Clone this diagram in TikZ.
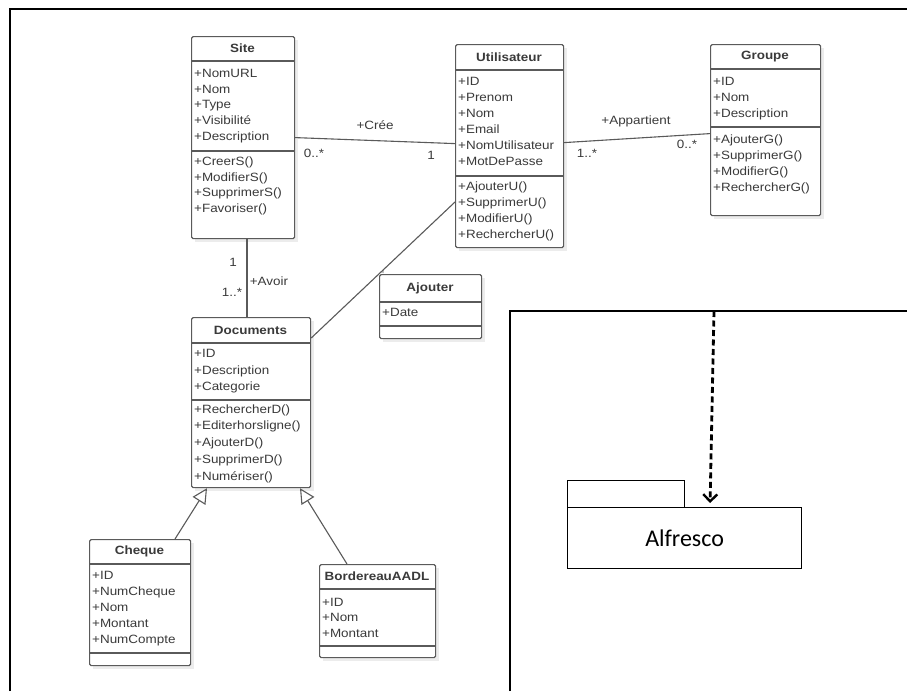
\documentclass[tikz,border=0pt]{standalone}
\usepackage{fontspec}
\setmainfont{Liberation Sans}[FakeStretch=1.12]
\newfontfamily\alffont{Carlito}
\usetikzlibrary{arrows.meta,calc}
\definecolor{boxline}{HTML}{5A5A5A}
\definecolor{txt}{HTML}{3A3A3A}
\definecolor{shadowc}{HTML}{ECECEC}
\tikzset{
  clsframe/.style={draw=boxline, line width=1.2pt, rounded corners=1.5pt, fill=white, inner sep=0pt, anchor=north west},
  sepline/.style={draw=boxline, line width=1.2pt},
  ttl/.style={font=\fontsize{12}{14}\selectfont\bfseries, text=txt, inner sep=0pt},
  item/.style={font=\fontsize{12}{14}\selectfont, text=txt, inner sep=0pt, anchor=west, text height=9pt, text depth=2.5pt},
  assoc/.style={draw=boxline, line width=1.1pt},
  lbl/.style={font=\fontsize{12}{14}\selectfont, text=txt, inner sep=0pt},
  gen/.style={draw=boxline, line width=1.1pt, -{Triangle[open,length=15pt,width=15pt,fill=white]}},
  frameline/.style={draw=black, line width=2.8pt},
  innerframe/.style={draw=black, line width=1.5pt},
  pkg/.style={draw=black, line width=1.2pt, fill=white, inner sep=0pt, anchor=north west},
  depend/.style={draw=black, line width=2.8pt, dash pattern=on 6pt off 3.5pt, -{Straight Barb[length=7pt,width=14pt,line width=2.4pt]}},
}
\newcommand\umlclass[8]{%
  \fill[shadowc] (#2+4,#3+4) rectangle (#4+4,#7+4);
  \node[clsframe, minimum width={(#4-#2)*1pt}, minimum height={(#7-#3)*1pt}] (#1) at (#2,#3) {};
  \draw[sepline] (#2,#5) -- (#4,#5);
  \draw[sepline] (#2,#6) -- (#4,#6);
  \node[ttl] (#1-t) at ({(#2+#4)/2},{(#3+#5)/2}) {#8};
}
\newcommand\umlitems[5]{%
  \foreach \s [count=\i] in {#5} \node[item] (#1-\i) at (#2,{#3+(\i-1)*#4}) {\s};
}
\begin{document}
\begin{tikzpicture}[x=1pt,y=-1pt]
\useasboundingbox (0,0) rectangle (907,691);
\fill[white] (0,0) rectangle (907,691);
% frames
\draw[frameline] (10,691) -- (10,9) -- (907,9);
\draw[innerframe] (510,691) -- (510,311) -- (907,311);
\coordinate (ftop) at (714,311);

% classes
\umlclass{site}{191}{36}{294}{61}{151}{238}{Site}
\umlitems{sa}{194}{74}{15.8}{+NomURL,+Nom,+Type,+Visibilité,+Description}
\umlitems{sm}{194}{162}{15.8}{+CreerS(),+ModifierS(),+SupprimerS(),+Favoriser()}

\umlclass{user}{455}{44}{563}{70}{176}{247}{Utilisateur}
\umlitems{ua}{458}{82}{16}{+ID,+Prenom,+Nom,+Email,+NomUtilisateur,+MotDePasse}
\umlitems{um}{458}{187}{16}{+AjouterU(),+SupprimerU(),+ModifierU(),+RechercherU()}

\umlclass{grp}{710}{44}{820}{69}{127}{215}{Groupe}
\umlitems{ga}{713}{82}{16}{+ID,+Nom,+Description}
\umlitems{gm}{713}{140}{16}{+AjouterG(),+SupprimerG(),+ModifierG(),+RechercherG()}

\umlclass{ajt}{379}{274}{481}{302}{326}{338}{Ajouter}
\umlitems{aa}{382}{313}{16}{+Date}

\umlclass{docs}{191}{317}{310}{343}{400}{487}{Documents}
\umlitems{da}{194}{354}{16.8}{+ID,+Description,+Categorie}
\umlitems{dm}{194}{410}{16.7}{+RechercherD(),+Editerhorsligne(),+AjouterD(),+SupprimerD(),+Numériser()}

\umlclass{chq}{89}{539}{190}{564}{653}{665}{Cheque}
\umlitems{ca}{92}{576}{16}{+ID,+NumCheque,+Nom,+Montant,+NumCompte}

\umlclass{bord}{319}{564}{435}{589}{646}{657}{BordereauAADL}
\umlitems{ba}{322}{603}{15.5}{+ID,+Nom,+Montant}

% associations
\draw[assoc] (site.east) -- ($(user.west)+(0,-2.5)$);
\node[lbl] (l-cree) at (375,125) {+Crée};
\node[lbl] (l-m1) at (314,153) {0..*};
\node[lbl] (l-m2) at (431,155) {1};

\draw[assoc] ($(user.east)+(0,-3.5)$) -- ($(grp.west)+(0,3.5)$);
\node[lbl] (l-app) at (636,121) {+Appartient};
\node[lbl] (l-m3) at (587,153) {1..*};
\node[lbl] (l-m4) at (687,144) {0..*};

\draw[assoc] ($(site.south west)+(56,0)$) -- ($(docs.north west)+(56,0)$);
\node[lbl] (l-m5) at (233,262) {1};
\node[lbl] (l-m6) at (232,292) {1..*};
\node[lbl] (l-avoir) at (269,281) {+Avoir};

\coordinate (dA) at ($(docs.north east)+(0,21)$);
\coordinate (uA) at ($(user.north west)+(0,158)$);
\draw[assoc] (dA) -- (uA);
\draw[assoc, dashed, line width=0.8pt] ($(dA)!0.5!(uA)$) -- ($(ajt.north west)+(4,0)$);

% generalizations
\draw[gen] ($(chq.north west)+(86,0)$) -- ($(docs.south west)+(16,0)$);
\draw[gen] ($(bord.north west)+(28,0)$) -- ($(docs.south west)+(109,0)$);

% package
\node[pkg, minimum width=117pt, minimum height=27pt] (tab) at (567,480) {};
\node[pkg, minimum width=234pt, minimum height=61pt] (alf) at (567,507) {};
\node[font=\alffont\fontsize{24}{28}\selectfont, text=black] (alf-t) at (alf.center) {Alfresco};
\draw[depend, shorten >=4pt] (ftop) -- ($(alf.north west)+(143,0)$);
\end{tikzpicture}
\end{document}
